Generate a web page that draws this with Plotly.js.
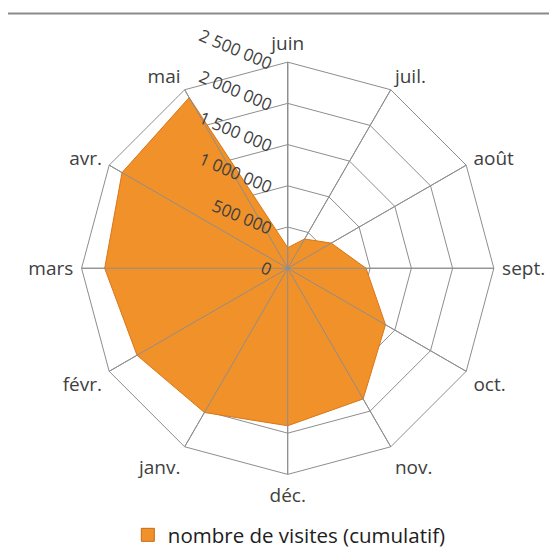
<!DOCTYPE html>
<html>
<head>
<meta charset="utf-8">
<script src="https://cdn.plot.ly/plotly-3.0.1.min.js"></script>
<style>html,body{margin:0;padding:0;background:#fff;}#chart{width:549px;height:555px;}</style>
</head>
<body>
<div id="chart"></div>
<script>
const categories = ['juin','juil.','août','sept.','oct.','nov.','déc.','janv.','févr.','mars','avr.','mai'];
const visits = [250000, 410000, 610000, 950000, 1370000, 1830000, 1910000, 2020000, 2110000, 2220000, 2320000, 2390000];
const tickVals = [0, 500000, 1000000, 1500000, 2000000, 2500000];
const tickText = ['0', '500 000', '1 000 000', '1 500 000', '2 000 000', '2 500 000'];
const seriesName = 'nombre de visites (cumulatif)';

const rMax = tickVals[tickVals.length - 1];
const spokeR = [], spokeT = [];
categories.forEach(c => { spokeR.push(0, rMax, null); spokeT.push(c, c, null); });

const font = 'Open Sans, sans-serif';
const txt = '#404040';
const grid = '#8e8e8e';
const orange = '#F19129';

const data = [
  {
    type: 'scatterpolar',
    r: visits.concat([visits[0]]),
    theta: categories.concat([categories[0]]),
    mode: 'lines',
    fill: 'toself',
    fillcolor: orange,
    line: {color: '#D9761A', width: 1},
    name: seriesName,
    showlegend: false,
    hoverinfo: 'skip'
  },
  {
    type: 'scatterpolar',
    r: spokeR,
    theta: spokeT,
    mode: 'lines',
    line: {color: grid, width: 1},
    connectgaps: false,
    showlegend: false,
    hoverinfo: 'skip'
  },
  {
    type: 'scatterpolar',
    r: [null],
    theta: [categories[0]],
    mode: 'markers',
    marker: {symbol: 'square', size: 13, color: orange, line: {color: '#C86A12', width: 1}},
    name: seriesName,
    showlegend: true,
    hoverinfo: 'skip'
  }
];

const layout = {
  width: 549, height: 555,
  margin: {l: 0, r: 0, t: 0, b: 0},
  paper_bgcolor: '#ffffff',
  font: {family: font, color: txt, size: 13},
  showlegend: true,
  legend: {
    orientation: 'h', x: 0.527, xanchor: 'center', y: 0.027, yanchor: 'middle',
    itemwidth: 30,
    font: {family: font, size: 20.5, color: '#202020'}
  },
  polar: {
    domain: {x: [79.7/549, 495.7/549], y: [76.3/555, 492.3/555]},
    gridshape: 'linear',
    bgcolor: 'rgba(0,0,0,0)',
    angularaxis: {
      type: 'category',
      categoryarray: categories,
      rotation: 90,
      direction: 'clockwise',
      showgrid: true,
      gridcolor: grid,
      gridwidth: 1,
      showline: true,
      linecolor: grid,
      linewidth: 1,
      ticks: 'outside',
      ticklen: 4,
      tickcolor: 'rgba(0,0,0,0)',
      tickfont: {family: font, size: 19, color: txt}
    },
    radialaxis: {
      range: [0, rMax],
      tickvals: tickVals,
      ticktext: tickText,
      angle: 90,
      side: 'counterclockwise',
      tickangle: 113,
      ticklabelstandoff: -9,
      showline: true,
      linecolor: grid,
      gridcolor: grid,
      gridwidth: 1,
      ticks: '',
      tickfont: {family: font, size: 17, color: txt}
    }
  },
  shapes: [
    {type: 'line', xref: 'paper', yref: 'paper', x0: 8/549, x1: 1, y0: 1 - 13.5/555, y1: 1 - 13.5/555,
     line: {color: '#8a8a8a', width: 2}}
  ]
};

Plotly.newPlot('chart', data, layout, {displayModeBar: false, staticPlot: true});
</script>
</body>
</html>
